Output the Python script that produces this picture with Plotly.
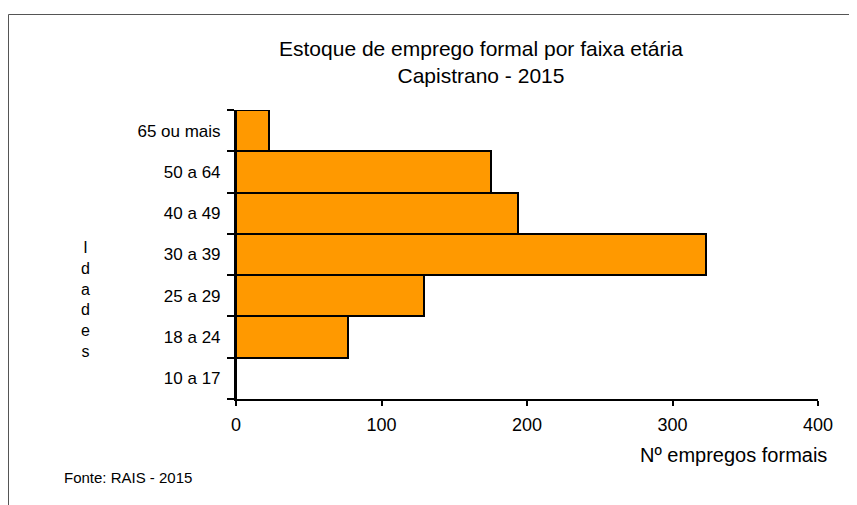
import plotly.graph_objects as go

categorias = ["10 a 17", "18 a 24", "25 a 29", "30 a 39", "40 a 49", "50 a 64", "65 ou mais"]
empregos = [0, 77, 129, 323, 194, 175, 23]
x_ticks = [0, 100, 200, 300, 400]

FONT = "Liberation Sans, Arial, sans-serif"

# plot area in figure pixels (page adds 8px body margin)
L, R, T, B = 228, 810, 102, 391
PW, PH = R - L, B - T


def px(X):
    return (X - L) / PW


def py(Y):
    return (B - Y) / PH


fig = go.Figure()
fig.add_trace(go.Bar(
    y=categorias, x=empregos, orientation="h",
    marker=dict(color="#FF9900", line=dict(color="black", width=2)),
    width=1.0,
))

fig.update_layout(
    width=857, height=505,
    margin=dict(l=L, r=857 - R, t=T, b=505 - B),
    paper_bgcolor="white", plot_bgcolor="white",
    showlegend=False,
    bargap=0,
    font=dict(family=FONT, color="black", size=17),
    xaxis=dict(range=[0, 400], tickvals=x_ticks, showgrid=False, zeroline=False,
               showline=True, linecolor="black", linewidth=2,
               ticks="outside", ticklen=5, tickwidth=2, tickcolor="black",
               ticklabelstandoff=3,
               tickfont=dict(size=18, family=FONT), fixedrange=True),
    yaxis=dict(type="category", categoryorder="array", categoryarray=categorias,
               range=[-0.5, 6.5], tickson="boundaries", showgrid=False, zeroline=False,
               showline=True, linecolor="black", linewidth=2,
               ticks="outside", ticklen=7, tickwidth=2, tickcolor="black",
               ticklabelstandoff=10,
               tickfont=dict(size=17, family=FONT), fixedrange=True),
    shapes=[dict(type="rect", xref="paper", yref="paper",
                 x0=px(0.5), x1=px(900), y0=py(600), y1=py(6.5),
                 line=dict(color="#555555", width=1), layer="below")],
    annotations=[
        dict(text="Estoque de emprego formal por faixa etária<br>Capistrano - 2015",
             xref="paper", yref="paper", x=px(473), y=py(54),
             xanchor="center", yanchor="middle", showarrow=False,
             font=dict(size=21, family=FONT)),
        dict(text="I<br>d<br>a<br>d<br>e<br>s", xref="paper", yref="paper",
             x=px(77), y=py(291), xanchor="center", yanchor="middle",
             showarrow=False, font=dict(size=16, family=FONT)),
        dict(text="Nº empregos formais", xref="paper", yref="paper",
             x=px(821), y=py(447), xanchor="right", yanchor="middle",
             showarrow=False, font=dict(size=20, family=FONT)),
        dict(text="Fonte: RAIS - 2015", xref="paper", yref="paper",
             x=px(54), y=py(469), xanchor="left", yanchor="middle",
             showarrow=False, font=dict(size=15, family=FONT)),
    ],
)

fig.write_html("out.html")
